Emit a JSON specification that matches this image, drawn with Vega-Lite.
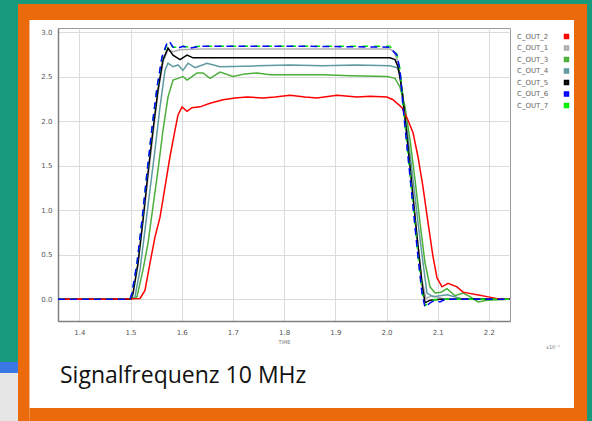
{
"$schema": "https://vega.github.io/schema/vega-lite/v6.json",
"width": 452, "height": 293,
"autosize": {"type": "none"},
"padding": {"left": 58, "top": 28, "right": 82, "bottom": 100},
"background": "#ffffff",
"view": {"stroke": "#9a9a9a", "strokeWidth": 1},
"datasets": {"curves": [
{"s":"C_OUT_1","t":1.3584,"v":0},{"s":"C_OUT_1","t":1.45,"v":0},{"s":"C_OUT_1","t":1.501,"v":0},{"s":"C_OUT_1","t":1.5049,"v":0.05},{"s":"C_OUT_1","t":1.5147,"v":0.39},{"s":"C_OUT_1","t":1.5244,"v":0.87},{"s":"C_OUT_1","t":1.5342,"v":1.36},{"s":"C_OUT_1","t":1.5439,"v":1.84},{"s":"C_OUT_1","t":1.5537,"v":2.32},{"s":"C_OUT_1","t":1.5635,"v":2.66},{"s":"C_OUT_1","t":1.5732,"v":2.8},{"s":"C_OUT_1","t":1.583,"v":2.78},{"s":"C_OUT_1","t":1.5967,"v":2.8},{"s":"C_OUT_1","t":1.6357,"v":2.81},{"s":"C_OUT_1","t":1.8311,"v":2.81},{"s":"C_OUT_1","t":2.0068,"v":2.81},{"s":"C_OUT_1","t":2.0146,"v":2.78},{"s":"C_OUT_1","t":2.0225,"v":2.66},{"s":"C_OUT_1","t":2.0303,"v":2.35},{"s":"C_OUT_1","t":2.04,"v":1.84},{"s":"C_OUT_1","t":2.0498,"v":1.28},{"s":"C_OUT_1","t":2.0596,"v":0.72},{"s":"C_OUT_1","t":2.0693,"v":0.22},{"s":"C_OUT_1","t":2.0771,"v":0.01},{"s":"C_OUT_1","t":2.0889,"v":0.04},{"s":"C_OUT_1","t":2.1143,"v":0},{"s":"C_OUT_1","t":2.2412,"v":0},
{"s":"C_OUT_4","t":1.3584,"v":0},{"s":"C_OUT_4","t":1.45,"v":0},{"s":"C_OUT_4","t":1.5049,"v":0.01},{"s":"C_OUT_4","t":1.5088,"v":0.03},{"s":"C_OUT_4","t":1.5186,"v":0.33},{"s":"C_OUT_4","t":1.5283,"v":0.78},{"s":"C_OUT_4","t":1.5381,"v":1.23},{"s":"C_OUT_4","t":1.5479,"v":1.68},{"s":"C_OUT_4","t":1.5576,"v":2.16},{"s":"C_OUT_4","t":1.5674,"v":2.57},{"s":"C_OUT_4","t":1.5732,"v":2.65},{"s":"C_OUT_4","t":1.583,"v":2.61},{"s":"C_OUT_4","t":1.5928,"v":2.63},{"s":"C_OUT_4","t":1.6025,"v":2.57},{"s":"C_OUT_4","t":1.6123,"v":2.65},{"s":"C_OUT_4","t":1.626,"v":2.6},{"s":"C_OUT_4","t":1.6494,"v":2.65},{"s":"C_OUT_4","t":1.6748,"v":2.61},{"s":"C_OUT_4","t":1.7471,"v":2.62},{"s":"C_OUT_4","t":1.8115,"v":2.63},{"s":"C_OUT_4","t":1.876,"v":2.62},{"s":"C_OUT_4","t":1.9404,"v":2.63},{"s":"C_OUT_4","t":2.0068,"v":2.62},{"s":"C_OUT_4","t":2.0205,"v":2.6},{"s":"C_OUT_4","t":2.0264,"v":2.54},{"s":"C_OUT_4","t":2.0322,"v":2.27},{"s":"C_OUT_4","t":2.042,"v":1.82},{"s":"C_OUT_4","t":2.0518,"v":1.34},{"s":"C_OUT_4","t":2.0615,"v":0.86},{"s":"C_OUT_4","t":2.0713,"v":0.41},{"s":"C_OUT_4","t":2.0791,"v":0.07},{"s":"C_OUT_4","t":2.0909,"v":0.03},{"s":"C_OUT_4","t":2.1182,"v":0.05},{"s":"C_OUT_4","t":2.1455,"v":0.01},{"s":"C_OUT_4","t":2.2412,"v":0},
{"s":"C_OUT_3","t":1.3584,"v":0},{"s":"C_OUT_3","t":1.45,"v":0},{"s":"C_OUT_3","t":1.5088,"v":0.01},{"s":"C_OUT_3","t":1.5127,"v":0.03},{"s":"C_OUT_3","t":1.5244,"v":0.33},{"s":"C_OUT_3","t":1.5342,"v":0.63},{"s":"C_OUT_3","t":1.5439,"v":1.04},{"s":"C_OUT_3","t":1.5537,"v":1.45},{"s":"C_OUT_3","t":1.5635,"v":1.9},{"s":"C_OUT_3","t":1.5732,"v":2.27},{"s":"C_OUT_3","t":1.583,"v":2.46},{"s":"C_OUT_3","t":1.5928,"v":2.48},{"s":"C_OUT_3","t":1.6025,"v":2.5},{"s":"C_OUT_3","t":1.6104,"v":2.46},{"s":"C_OUT_3","t":1.6201,"v":2.5},{"s":"C_OUT_3","t":1.6299,"v":2.54},{"s":"C_OUT_3","t":1.6416,"v":2.54},{"s":"C_OUT_3","t":1.6553,"v":2.48},{"s":"C_OUT_3","t":1.6748,"v":2.55},{"s":"C_OUT_3","t":1.7002,"v":2.5},{"s":"C_OUT_3","t":1.7236,"v":2.53},{"s":"C_OUT_3","t":1.7471,"v":2.54},{"s":"C_OUT_3","t":1.7725,"v":2.52},{"s":"C_OUT_3","t":1.7979,"v":2.52},{"s":"C_OUT_3","t":1.8311,"v":2.52},{"s":"C_OUT_3","t":1.876,"v":2.52},{"s":"C_OUT_3","t":1.9287,"v":2.51},{"s":"C_OUT_3","t":2.001,"v":2.5},{"s":"C_OUT_3","t":2.0166,"v":2.48},{"s":"C_OUT_3","t":2.0264,"v":2.38},{"s":"C_OUT_3","t":2.0361,"v":2.16},{"s":"C_OUT_3","t":2.0459,"v":1.79},{"s":"C_OUT_3","t":2.0557,"v":1.34},{"s":"C_OUT_3","t":2.0654,"v":0.86},{"s":"C_OUT_3","t":2.0752,"v":0.41},{"s":"C_OUT_3","t":2.085,"v":0.14},{"s":"C_OUT_3","t":2.0948,"v":0.07},{"s":"C_OUT_3","t":2.1064,"v":0.08},{"s":"C_OUT_3","t":2.1182,"v":0.12},{"s":"C_OUT_3","t":2.1338,"v":0.04},{"s":"C_OUT_3","t":2.1494,"v":0.07},{"s":"C_OUT_3","t":2.1631,"v":0.03},{"s":"C_OUT_3","t":2.1787,"v":-0.03},{"s":"C_OUT_3","t":2.1963,"v":-0.01},{"s":"C_OUT_3","t":2.2412,"v":0},
{"s":"C_OUT_5","t":1.3584,"v":0},{"s":"C_OUT_5","t":1.45,"v":0},{"s":"C_OUT_5","t":1.501,"v":0},{"s":"C_OUT_5","t":1.5049,"v":0.07},{"s":"C_OUT_5","t":1.5147,"v":0.41},{"s":"C_OUT_5","t":1.5244,"v":0.89},{"s":"C_OUT_5","t":1.5342,"v":1.42},{"s":"C_OUT_5","t":1.5439,"v":1.9},{"s":"C_OUT_5","t":1.5537,"v":2.35},{"s":"C_OUT_5","t":1.5635,"v":2.69},{"s":"C_OUT_5","t":1.5732,"v":2.82},{"s":"C_OUT_5","t":1.583,"v":2.74},{"s":"C_OUT_5","t":1.5967,"v":2.69},{"s":"C_OUT_5","t":1.6104,"v":2.74},{"s":"C_OUT_5","t":1.6221,"v":2.71},{"s":"C_OUT_5","t":1.6357,"v":2.71},{"s":"C_OUT_5","t":1.6807,"v":2.71},{"s":"C_OUT_5","t":1.8311,"v":2.71},{"s":"C_OUT_5","t":2.0068,"v":2.71},{"s":"C_OUT_5","t":2.0166,"v":2.69},{"s":"C_OUT_5","t":2.0225,"v":2.61},{"s":"C_OUT_5","t":2.0303,"v":2.35},{"s":"C_OUT_5","t":2.04,"v":1.82},{"s":"C_OUT_5","t":2.0498,"v":1.26},{"s":"C_OUT_5","t":2.0596,"v":0.7},{"s":"C_OUT_5","t":2.0693,"v":0.18},{"s":"C_OUT_5","t":2.0752,"v":-0.04},{"s":"C_OUT_5","t":2.085,"v":-0.01},{"s":"C_OUT_5","t":2.1045,"v":0},{"s":"C_OUT_5","t":2.2412,"v":0},
{"s":"C_OUT_2","t":1.3584,"v":0},{"s":"C_OUT_2","t":1.4,"v":0.003},{"s":"C_OUT_2","t":1.45,"v":0},{"s":"C_OUT_2","t":1.5,"v":0.005},{"s":"C_OUT_2","t":1.5186,"v":0.01},{"s":"C_OUT_2","t":1.5283,"v":0.1},{"s":"C_OUT_2","t":1.5381,"v":0.41},{"s":"C_OUT_2","t":1.5479,"v":0.7},{"s":"C_OUT_2","t":1.5576,"v":0.92},{"s":"C_OUT_2","t":1.5674,"v":1.26},{"s":"C_OUT_2","t":1.5771,"v":1.6},{"s":"C_OUT_2","t":1.5869,"v":1.9},{"s":"C_OUT_2","t":1.5928,"v":2.07},{"s":"C_OUT_2","t":1.6006,"v":2.16},{"s":"C_OUT_2","t":1.6104,"v":2.11},{"s":"C_OUT_2","t":1.6201,"v":2.15},{"s":"C_OUT_2","t":1.6357,"v":2.16},{"s":"C_OUT_2","t":1.6553,"v":2.2},{"s":"C_OUT_2","t":1.6807,"v":2.24},{"s":"C_OUT_2","t":1.7041,"v":2.26},{"s":"C_OUT_2","t":1.7275,"v":2.27},{"s":"C_OUT_2","t":1.7588,"v":2.26},{"s":"C_OUT_2","t":1.7822,"v":2.27},{"s":"C_OUT_2","t":1.8115,"v":2.29},{"s":"C_OUT_2","t":1.8408,"v":2.27},{"s":"C_OUT_2","t":1.8643,"v":2.26},{"s":"C_OUT_2","t":1.9033,"v":2.29},{"s":"C_OUT_2","t":1.9424,"v":2.27},{"s":"C_OUT_2","t":1.9678,"v":2.28},{"s":"C_OUT_2","t":2.001,"v":2.27},{"s":"C_OUT_2","t":2.0127,"v":2.24},{"s":"C_OUT_2","t":2.0303,"v":2.15},{"s":"C_OUT_2","t":2.042,"v":2.01},{"s":"C_OUT_2","t":2.0518,"v":1.87},{"s":"C_OUT_2","t":2.0615,"v":1.6},{"s":"C_OUT_2","t":2.0713,"v":1.26},{"s":"C_OUT_2","t":2.0811,"v":0.86},{"s":"C_OUT_2","t":2.0909,"v":0.475},{"s":"C_OUT_2","t":2.0987,"v":0.24},{"s":"C_OUT_2","t":2.1084,"v":0.14},{"s":"C_OUT_2","t":2.1201,"v":0.18},{"s":"C_OUT_2","t":2.1377,"v":0.14},{"s":"C_OUT_2","t":2.1494,"v":0.08},{"s":"C_OUT_2","t":2.1768,"v":0.05},{"s":"C_OUT_2","t":2.1963,"v":0.03},{"s":"C_OUT_2","t":2.2217,"v":0},{"s":"C_OUT_2","t":2.2412,"v":0},
{"s":"C_OUT_7","t":1.3584,"v":0},{"s":"C_OUT_7","t":1.45,"v":0},{"s":"C_OUT_7","t":1.499,"v":0},{"s":"C_OUT_7","t":1.5029,"v":0.06},{"s":"C_OUT_7","t":1.5127,"v":0.4},{"s":"C_OUT_7","t":1.5225,"v":0.88},{"s":"C_OUT_7","t":1.5322,"v":1.41},{"s":"C_OUT_7","t":1.542,"v":1.92},{"s":"C_OUT_7","t":1.5518,"v":2.37},{"s":"C_OUT_7","t":1.5615,"v":2.71},{"s":"C_OUT_7","t":1.5713,"v":2.86},{"s":"C_OUT_7","t":1.5752,"v":2.88},{"s":"C_OUT_7","t":1.583,"v":2.83},{"s":"C_OUT_7","t":1.5928,"v":2.83},{"s":"C_OUT_7","t":1.6025,"v":2.84},{"s":"C_OUT_7","t":1.6162,"v":2.83},{"s":"C_OUT_7","t":1.6357,"v":2.84},{"s":"C_OUT_7","t":1.8311,"v":2.84},{"s":"C_OUT_7","t":2.0068,"v":2.84},{"s":"C_OUT_7","t":2.0107,"v":2.81},{"s":"C_OUT_7","t":2.0205,"v":2.75},{"s":"C_OUT_7","t":2.0264,"v":2.58},{"s":"C_OUT_7","t":2.0322,"v":2.18},{"s":"C_OUT_7","t":2.042,"v":1.62},{"s":"C_OUT_7","t":2.0518,"v":1.06},{"s":"C_OUT_7","t":2.0615,"v":0.5},{"s":"C_OUT_7","t":2.0693,"v":0.09},{"s":"C_OUT_7","t":2.0752,"v":-0.07},{"s":"C_OUT_7","t":2.085,"v":-0.03},{"s":"C_OUT_7","t":2.0948,"v":0},{"s":"C_OUT_7","t":2.1045,"v":-0.02},{"s":"C_OUT_7","t":2.1143,"v":0},{"s":"C_OUT_7","t":2.2412,"v":0},
{"s":"C_OUT_6","t":1.3584,"v":0},{"s":"C_OUT_6","t":1.45,"v":0},{"s":"C_OUT_6","t":1.499,"v":0},{"s":"C_OUT_6","t":1.5029,"v":0.07},{"s":"C_OUT_6","t":1.5127,"v":0.41},{"s":"C_OUT_6","t":1.5225,"v":0.89},{"s":"C_OUT_6","t":1.5322,"v":1.42},{"s":"C_OUT_6","t":1.542,"v":1.93},{"s":"C_OUT_6","t":1.5518,"v":2.38},{"s":"C_OUT_6","t":1.5615,"v":2.72},{"s":"C_OUT_6","t":1.5713,"v":2.88},{"s":"C_OUT_6","t":1.5752,"v":2.9},{"s":"C_OUT_6","t":1.583,"v":2.83},{"s":"C_OUT_6","t":1.5928,"v":2.82},{"s":"C_OUT_6","t":1.6025,"v":2.84},{"s":"C_OUT_6","t":1.6162,"v":2.82},{"s":"C_OUT_6","t":1.6357,"v":2.84},{"s":"C_OUT_6","t":1.8311,"v":2.84},{"s":"C_OUT_6","t":2.0068,"v":2.83},{"s":"C_OUT_6","t":2.0107,"v":2.8},{"s":"C_OUT_6","t":2.0205,"v":2.74},{"s":"C_OUT_6","t":2.0264,"v":2.57},{"s":"C_OUT_6","t":2.0322,"v":2.16},{"s":"C_OUT_6","t":2.042,"v":1.6},{"s":"C_OUT_6","t":2.0518,"v":1.04},{"s":"C_OUT_6","t":2.0615,"v":0.475},{"s":"C_OUT_6","t":2.0693,"v":0.07},{"s":"C_OUT_6","t":2.0752,"v":-0.09},{"s":"C_OUT_6","t":2.085,"v":-0.04},{"s":"C_OUT_6","t":2.0948,"v":-0.01},{"s":"C_OUT_6","t":2.1045,"v":-0.03},{"s":"C_OUT_6","t":2.1143,"v":0},{"s":"C_OUT_6","t":2.2412,"v":0}
]},
"layer": [
{"data": {"name": "curves"}, "transform": [{"filter": "datum.s != 'C_OUT_6' && datum.s != 'C_OUT_7'"}],
 "mark": {"type": "line", "strokeWidth": 1.5},
 "encoding": {
  "x": {"field": "t", "type": "quantitative", "title": "TIME", "scale": {"domain": [1.3584, 2.2412], "nice": false, "zero": false}, "axis": {"values": [1.4,1.5,1.6,1.7,1.8,1.9,2.0,2.1,2.2], "format": ".1f", "title": "TIME", "labelPadding": 7, "titlePadding": 4}},
  "y": {"field": "v", "type": "quantitative", "title": null, "scale": {"domain": [-0.2435, 3.045], "nice": false, "zero": false}, "axis": {"values": [0,0.5,1,1.5,2,2.5,3], "format": ".1f", "title": null, "labelPadding": 6}},
  "color": {"field": "s", "type": "nominal", "scale": {"domain": ["C_OUT_2","C_OUT_1","C_OUT_3","C_OUT_4","C_OUT_5","C_OUT_6","C_OUT_7"], "range": ["#ff0000","#b0b0b0","#4caf3a","#5f9aa0","#000000","#0000ff","#00ee00"]},
   "legend": {"orient": "none", "legendX": 450, "legendY": 5, "title": null, "symbolType": "square", "symbolSize": 9, "symbolStrokeWidth": 2.5, "symbolDash": [], "symbolOffset": 55, "labelOffset": -53, "labelFontSize": 7, "labelColor": "#666666", "rowPadding": -1.5, "padding": 0}}
 }},
{"data": {"name": "curves"}, "transform": [{"filter": "datum.s == 'C_OUT_7'"}],
 "mark": {"type": "line", "strokeWidth": 1.5, "strokeDash": [6, 6]},
 "encoding": {
  "x": {"field": "t", "type": "quantitative", "title": "TIME", "scale": {"domain": [1.3584, 2.2412], "nice": false, "zero": false}, "axis": {"values": [1.4,1.5,1.6,1.7,1.8,1.9,2.0,2.1,2.2], "format": ".1f", "title": "TIME", "labelPadding": 7, "titlePadding": 4}},
  "y": {"field": "v", "type": "quantitative", "title": null, "scale": {"domain": [-0.2435, 3.045], "nice": false, "zero": false}, "axis": {"values": [0,0.5,1,1.5,2,2.5,3], "format": ".1f", "title": null, "labelPadding": 6}},
  "color": {"field": "s", "type": "nominal", "scale": {"domain": ["C_OUT_2","C_OUT_1","C_OUT_3","C_OUT_4","C_OUT_5","C_OUT_6","C_OUT_7"], "range": ["#ff0000","#b0b0b0","#4caf3a","#5f9aa0","#000000","#0000ff","#00ee00"]},
   "legend": {"orient": "none", "legendX": 450, "legendY": 5, "title": null, "symbolType": "square", "symbolSize": 9, "symbolStrokeWidth": 2.5, "symbolDash": [], "symbolOffset": 55, "labelOffset": -53, "labelFontSize": 7, "labelColor": "#666666", "rowPadding": -1.5, "padding": 0}}
 }},
{"data": {"name": "curves"}, "transform": [{"filter": "datum.s == 'C_OUT_6'"}],
 "mark": {"type": "line", "strokeWidth": 1.5, "strokeDash": [7, 5]},
 "encoding": {
  "x": {"field": "t", "type": "quantitative", "title": "TIME", "scale": {"domain": [1.3584, 2.2412], "nice": false, "zero": false}, "axis": {"values": [1.4,1.5,1.6,1.7,1.8,1.9,2.0,2.1,2.2], "format": ".1f", "title": "TIME", "labelPadding": 7, "titlePadding": 4}},
  "y": {"field": "v", "type": "quantitative", "title": null, "scale": {"domain": [-0.2435, 3.045], "nice": false, "zero": false}, "axis": {"values": [0,0.5,1,1.5,2,2.5,3], "format": ".1f", "title": null, "labelPadding": 6}},
  "color": {"field": "s", "type": "nominal", "scale": {"domain": ["C_OUT_2","C_OUT_1","C_OUT_3","C_OUT_4","C_OUT_5","C_OUT_6","C_OUT_7"], "range": ["#ff0000","#b0b0b0","#4caf3a","#5f9aa0","#000000","#0000ff","#00ee00"]},
   "legend": {"orient": "none", "legendX": 450, "legendY": 5, "title": null, "symbolType": "square", "symbolSize": 9, "symbolStrokeWidth": 2.5, "symbolDash": [], "symbolOffset": 55, "labelOffset": -53, "labelFontSize": 7, "labelColor": "#666666", "rowPadding": -1.5, "padding": 0}}
 }},
{"data": {"values": [{}]}, "mark": {"type": "rect", "color": "#189a7c"}, "encoding": {"x": {"datum": 1.2, "type": "quantitative", "title": "TIME", "scale": {"domain": [1.3584, 2.2412], "nice": false, "zero": false}, "axis": {"values": [1.4,1.5,1.6,1.7,1.8,1.9,2.0,2.1,2.2], "format": ".1f", "title": "TIME", "labelPadding": 7, "titlePadding": 4}}, "x2": {"datum": 2.45}, "y": {"datum": 3.5, "type": "quantitative", "title": null, "scale": {"domain": [-0.2435, 3.045], "nice": false, "zero": false}, "axis": {"values": [0,0.5,1,1.5,2,2.5,3], "format": ".1f", "title": null, "labelPadding": 6}}, "y2": {"datum": 3.314}}},
{"data": {"values": [{}]}, "mark": {"type": "rect", "color": "#189a7c"}, "encoding": {"x": {"datum": 1.2, "type": "quantitative", "title": "TIME", "scale": {"domain": [1.3584, 2.2412], "nice": false, "zero": false}, "axis": {"values": [1.4,1.5,1.6,1.7,1.8,1.9,2.0,2.1,2.2], "format": ".1f", "title": "TIME", "labelPadding": 7, "titlePadding": 4}}, "x2": {"datum": 1.2803}, "y": {"datum": 3.5, "type": "quantitative", "title": null, "scale": {"domain": [-0.2435, 3.045], "nice": false, "zero": false}, "axis": {"values": [0,0.5,1,1.5,2,2.5,3], "format": ".1f", "title": null, "labelPadding": 6}}, "y2": {"datum": -0.704}}},
{"data": {"values": [{}]}, "mark": {"type": "rect", "color": "#189a7c"}, "encoding": {"x": {"datum": 2.3916, "type": "quantitative", "title": "TIME", "scale": {"domain": [1.3584, 2.2412], "nice": false, "zero": false}, "axis": {"values": [1.4,1.5,1.6,1.7,1.8,1.9,2.0,2.1,2.2], "format": ".1f", "title": "TIME", "labelPadding": 7, "titlePadding": 4}}, "x2": {"datum": 2.45}, "y": {"datum": 3.5, "type": "quantitative", "title": null, "scale": {"domain": [-0.2435, 3.045], "nice": false, "zero": false}, "axis": {"values": [0,0.5,1,1.5,2,2.5,3], "format": ".1f", "title": null, "labelPadding": 6}}, "y2": {"datum": -1.5}}},
{"data": {"values": [{}]}, "mark": {"type": "rect", "color": "#3a78e6"}, "encoding": {"x": {"datum": 1.2, "type": "quantitative", "title": "TIME", "scale": {"domain": [1.3584, 2.2412], "nice": false, "zero": false}, "axis": {"values": [1.4,1.5,1.6,1.7,1.8,1.9,2.0,2.1,2.2], "format": ".1f", "title": "TIME", "labelPadding": 7, "titlePadding": 4}}, "x2": {"datum": 1.2803}, "y": {"datum": -0.704, "type": "quantitative", "title": null, "scale": {"domain": [-0.2435, 3.045], "nice": false, "zero": false}, "axis": {"values": [0,0.5,1,1.5,2,2.5,3], "format": ".1f", "title": null, "labelPadding": 6}}, "y2": {"datum": -0.827}}},
{"data": {"values": [{}]}, "mark": {"type": "rect", "color": "#e6e6e6"}, "encoding": {"x": {"datum": 1.2, "type": "quantitative", "title": "TIME", "scale": {"domain": [1.3584, 2.2412], "nice": false, "zero": false}, "axis": {"values": [1.4,1.5,1.6,1.7,1.8,1.9,2.0,2.1,2.2], "format": ".1f", "title": "TIME", "labelPadding": 7, "titlePadding": 4}}, "x2": {"datum": 1.2803}, "y": {"datum": -0.827, "type": "quantitative", "title": null, "scale": {"domain": [-0.2435, 3.045], "nice": false, "zero": false}, "axis": {"values": [0,0.5,1,1.5,2,2.5,3], "format": ".1f", "title": null, "labelPadding": 6}}, "y2": {"datum": -1.5}}},
{"data": {"values": [{}]}, "mark": {"type": "rect", "color": "#ea6a0c"}, "encoding": {"x": {"datum": 1.2803, "type": "quantitative", "title": "TIME", "scale": {"domain": [1.3584, 2.2412], "nice": false, "zero": false}, "axis": {"values": [1.4,1.5,1.6,1.7,1.8,1.9,2.0,2.1,2.2], "format": ".1f", "title": "TIME", "labelPadding": 7, "titlePadding": 4}}, "x2": {"datum": 2.3916}, "y": {"datum": 3.314, "type": "quantitative", "title": null, "scale": {"domain": [-0.2435, 3.045], "nice": false, "zero": false}, "axis": {"values": [0,0.5,1,1.5,2,2.5,3], "format": ".1f", "title": null, "labelPadding": 6}}, "y2": {"datum": 3.135}}},
{"data": {"values": [{}]}, "mark": {"type": "rect", "color": "#ea6a0c"}, "encoding": {"x": {"datum": 1.2803, "type": "quantitative", "title": "TIME", "scale": {"domain": [1.3584, 2.2412], "nice": false, "zero": false}, "axis": {"values": [1.4,1.5,1.6,1.7,1.8,1.9,2.0,2.1,2.2], "format": ".1f", "title": "TIME", "labelPadding": 7, "titlePadding": 4}}, "x2": {"datum": 1.3027}, "y": {"datum": 3.135, "type": "quantitative", "title": null, "scale": {"domain": [-0.2435, 3.045], "nice": false, "zero": false}, "axis": {"values": [0,0.5,1,1.5,2,2.5,3], "format": ".1f", "title": null, "labelPadding": 6}}, "y2": {"datum": -1.5}}},
{"data": {"values": [{}]}, "mark": {"type": "rect", "color": "#ea6a0c"}, "encoding": {"x": {"datum": 2.3662, "type": "quantitative", "title": "TIME", "scale": {"domain": [1.3584, 2.2412], "nice": false, "zero": false}, "axis": {"values": [1.4,1.5,1.6,1.7,1.8,1.9,2.0,2.1,2.2], "format": ".1f", "title": "TIME", "labelPadding": 7, "titlePadding": 4}}, "x2": {"datum": 2.3916}, "y": {"datum": 3.135, "type": "quantitative", "title": null, "scale": {"domain": [-0.2435, 3.045], "nice": false, "zero": false}, "axis": {"values": [0,0.5,1,1.5,2,2.5,3], "format": ".1f", "title": null, "labelPadding": 6}}, "y2": {"datum": -1.5}}},
{"data": {"values": [{}]}, "mark": {"type": "rect", "color": "#ea6a0c"}, "encoding": {"x": {"datum": 1.3027, "type": "quantitative", "title": "TIME", "scale": {"domain": [1.3584, 2.2412], "nice": false, "zero": false}, "axis": {"values": [1.4,1.5,1.6,1.7,1.8,1.9,2.0,2.1,2.2], "format": ".1f", "title": "TIME", "labelPadding": 7, "titlePadding": 4}}, "x2": {"datum": 2.3662}, "y": {"datum": -1.22, "type": "quantitative", "title": null, "scale": {"domain": [-0.2435, 3.045], "nice": false, "zero": false}, "axis": {"values": [0,0.5,1,1.5,2,2.5,3], "format": ".1f", "title": null, "labelPadding": 6}}, "y2": {"datum": -1.5}}},
{"data": {"values": [{"label": "x10⁻⁷"}]}, "mark": {"type": "text", "fontSize": 5, "color": "#777777"},
 "encoding": {"x": {"datum": 2.325, "type": "quantitative", "title": "TIME", "scale": {"domain": [1.3584, 2.2412], "nice": false, "zero": false}, "axis": {"values": [1.4,1.5,1.6,1.7,1.8,1.9,2.0,2.1,2.2], "format": ".1f", "title": "TIME", "labelPadding": 7, "titlePadding": 4}}, "y": {"datum": -0.53, "type": "quantitative", "title": null, "scale": {"domain": [-0.2435, 3.045], "nice": false, "zero": false}, "axis": {"values": [0,0.5,1,1.5,2,2.5,3], "format": ".1f", "title": null, "labelPadding": 6}}, "text": {"field": "label"}}},
{"data": {"values": [{"label": "Signalfrequenz 10 MHz"}]}, "mark": {"type": "text", "font": "Open Sans", "fontSize": 23, "color": "#111111", "align": "left", "baseline": "alphabetic"},
 "encoding": {"x": {"datum": 1.3623, "type": "quantitative", "title": "TIME", "scale": {"domain": [1.3584, 2.2412], "nice": false, "zero": false}, "axis": {"values": [1.4,1.5,1.6,1.7,1.8,1.9,2.0,2.1,2.2], "format": ".1f", "title": "TIME", "labelPadding": 7, "titlePadding": 4}}, "y": {"datum": -0.939, "type": "quantitative", "title": null, "scale": {"domain": [-0.2435, 3.045], "nice": false, "zero": false}, "axis": {"values": [0,0.5,1,1.5,2,2.5,3], "format": ".1f", "title": null, "labelPadding": 6}}, "text": {"field": "label"}}}
],
"config": {
 "font": "DejaVu Sans",
 "axis": {"labelFontSize": 7, "labelColor": "#555555", "gridColor": "#dcdcdc", "domainColor": "#808080", "domainWidth": 1.5, "ticks": false, "tickSize": 0, "titleFontSize": 5, "titleColor": "#777777", "titleFontWeight": "normal"}
}
}
